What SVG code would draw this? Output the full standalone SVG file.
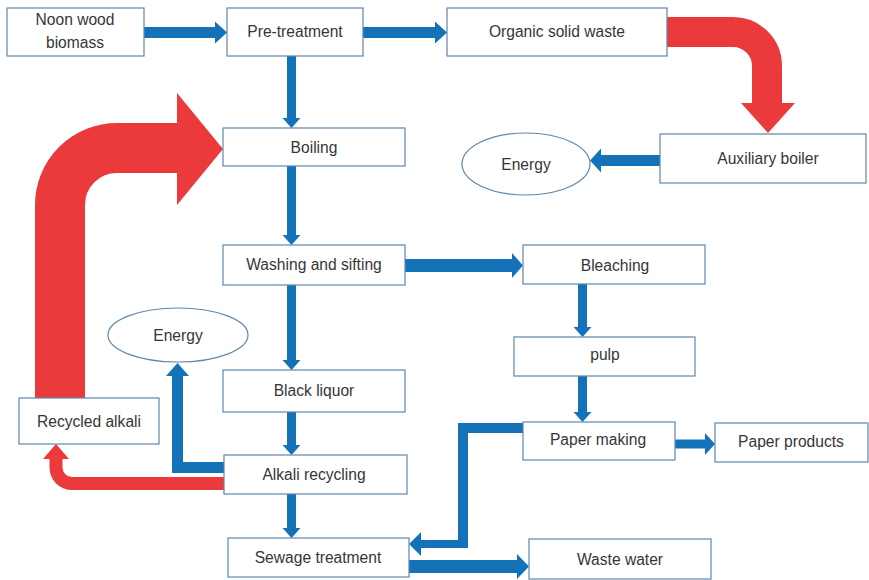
<svg xmlns="http://www.w3.org/2000/svg" width="869" height="580" viewBox="0 0 869 580">
<style>
.box{fill:#fff;stroke:#5f87ad;stroke-width:1.2}
.t{font-family:"Liberation Sans",Arial,sans-serif;font-size:15.6px;fill:#363636;text-anchor:middle}
.b{fill:#1472b8}
.r{fill:#ea3a3c}
.rs{fill:none;stroke:#ea3a3c}
</style>
<rect width="869" height="580" fill="#fff"/>
<g id="connectors">
<path class="rs" stroke-width="50" d="M60 398 V205 A57 57 0 0 1 117 148 H178"/>
<polygon class="r" points="177,93 223,149 177,205"/>
<path class="rs" stroke-width="30" d="M667 32 H733 A34 34 0 0 1 767 66 V104"/>
<polygon class="r" points="741,103 795,103 768,133"/>
<path class="rs" stroke-width="13" d="M224 483.5 H72 A16 16 0 0 1 56 467.5 V458"/>
<polygon class="r" points="43,459 69,459 56,444"/>
<polygon class="b" points="144,27 215,27 215,21.5 227,32.5 215,43.5 215,38 144,38"/>
<polygon class="b" points="363,27 435,27 435,21.5 447,32.5 435,43.5 435,38 363,38"/>
<polygon class="b" points="287,56 296,56 296,118 300.5,118 291.5,128 282.5,118 287,118"/>
<polygon class="b" points="287,166 296,166 296,235 300.5,235 291.5,245 282.5,235 287,235"/>
<polygon class="b" points="287,285 296,285 296,360 300.5,360 291.5,370 282.5,360 287,360"/>
<polygon class="b" points="287,412 296,412 296,445 300.5,445 291.5,455 282.5,445 287,445"/>
<polygon class="b" points="287,494 296,494 296,528 300.5,528 291.5,538 282.5,528 287,528"/>
<polygon class="b" points="660,155 601,155 601,148.5 590,160.5 601,172.5 601,166 660,166"/>
<polygon class="b" points="405,259 512,259 512,253 523,265.5 512,278 512,272 405,272"/>
<polygon class="b" points="578,284 587,284 587,327 591.5,327 582.5,337 573.5,327 578,327"/>
<polygon class="b" points="578,376 587,376 587,412 591.5,412 582.5,422 573.5,412 578,412"/>
<polygon class="b" points="675,439.5 705,439.5 705,433 715,444 705,455 705,448.5 675,448.5"/>
<polygon class="b" points="409,560 517,560 517,554 529,566.5 517,579 517,573 409,573"/>
<polygon class="b" points="523,423 458,423 458,540 421,540 421,532 409,544 421,556 421,548 468,548 468,433 523,433"/>
<polygon class="b" points="224,462 183,462 183,376 189,376 177.5,363 166,376 172,376 172,473 224,473"/>
</g>
<g id="noon-wood-biomass"><rect class="box" x="7" y="8" width="137" height="48"/><text class="t" x="75" y="25">Noon wood</text><text class="t" x="75" y="48">biomass</text></g>
<g id="pre-treatment"><rect class="box" x="227" y="8" width="136" height="48"/><text class="t" x="295" y="37">Pre-treatment</text></g>
<g id="organic-solid-waste"><rect class="box" x="447" y="8" width="220" height="48"/><text class="t" x="557" y="37">Organic solid waste</text></g>
<g id="auxiliary-boiler"><rect class="box" x="660" y="134" width="206" height="49"/><text class="t" x="768" y="164">Auxiliary boiler</text></g>
<g id="energy-top"><ellipse class="box" cx="526" cy="164" rx="64" ry="31"/><text class="t" x="526" y="170">Energy</text></g>
<g id="boiling"><rect class="box" x="223" y="128" width="182" height="38"/><text class="t" x="314" y="153">Boiling</text></g>
<g id="washing-and-sifting"><rect class="box" x="223" y="245" width="182" height="40"/><text class="t" x="314" y="270">Washing and sifting</text></g>
<g id="energy-left"><ellipse class="box" cx="178" cy="335" rx="70" ry="27"/><text class="t" x="178" y="341">Energy</text></g>
<g id="black-liquor"><rect class="box" x="223" y="370" width="182" height="42"/><text class="t" x="314" y="396">Black liquor</text></g>
<g id="recycled-alkali"><rect class="box" x="19" y="398" width="140" height="46"/><text class="t" x="89" y="427">Recycled alkali</text></g>
<g id="alkali-recycling"><rect class="box" x="224" y="455" width="183" height="39"/><text class="t" x="314" y="480">Alkali recycling</text></g>
<g id="sewage-treatment"><rect class="box" x="228" y="538" width="181" height="39"/><text class="t" x="318" y="563">Sewage treatment</text></g>
<g id="bleaching"><rect class="box" x="523" y="245" width="182" height="39"/><text class="t" x="615" y="271">Bleaching</text></g>
<g id="pulp"><rect class="box" x="514" y="337" width="181" height="39"/><text class="t" x="605" y="360">pulp</text></g>
<g id="paper-making"><rect class="box" x="523" y="422" width="152" height="38"/><text class="t" x="598" y="445">Paper making</text></g>
<g id="paper-products"><rect class="box" x="715" y="423" width="153" height="39"/><text class="t" x="791" y="447">Paper products</text></g>
<g id="waste-water"><rect class="box" x="529" y="539" width="182" height="40"/><text class="t" x="620" y="565">Waste water</text></g>
</svg>
